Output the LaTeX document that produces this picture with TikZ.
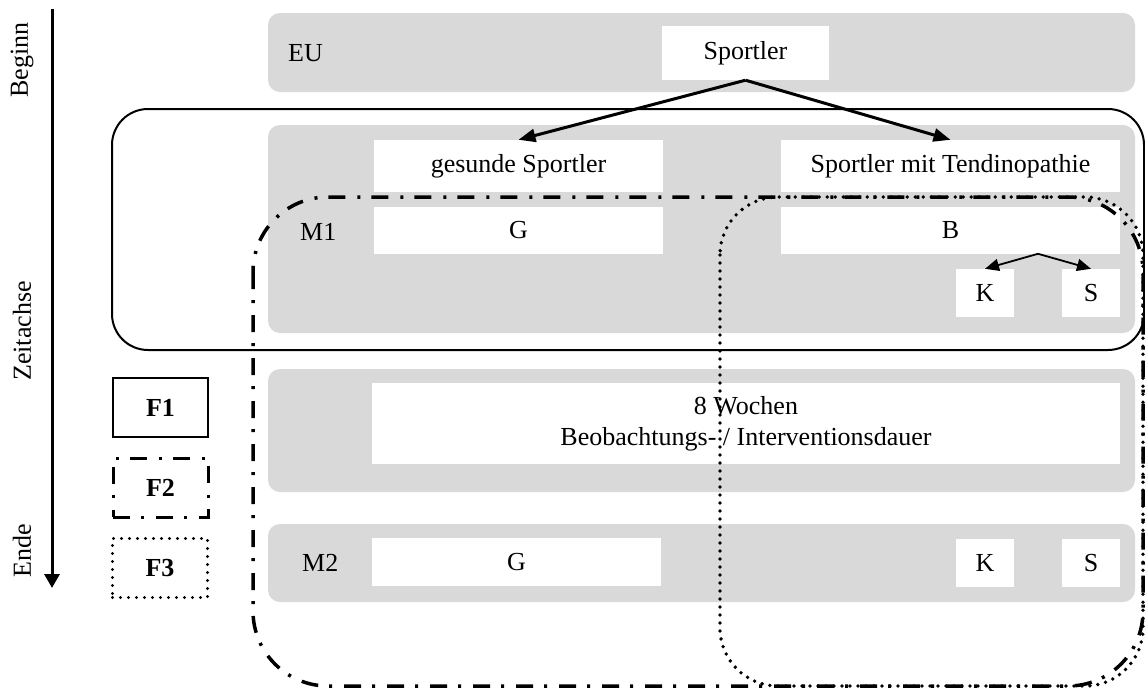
\documentclass[tikz,border=0pt]{standalone}
\usepackage{fontspec}
\setmainfont{Liberation Serif}
\usetikzlibrary{arrows.meta,calc}
\definecolor{bandgray}{HTML}{D9D9D9}

\begin{document}
\begin{tikzpicture}[x=1pt,y=-1pt,
  every node/.style={font=\fontsize{26}{31}\selectfont},
  band/.style={fill=bandgray, rounded corners=12pt, inner sep=0pt, minimum width=867pt},
  wbox/.style={fill=white, inner sep=0pt},
  lbl/.style={anchor=west, inner sep=0pt},
  axislbl/.style={rotate=90, inner sep=0pt},
  keybox/.style={inner sep=0pt, minimum width=95pt, minimum height=59pt, font=\fontsize{26}{31}\selectfont\bfseries},
  solidframe/.style={line width=2pt},
  dashdotframe/.style={line width=3.5pt, dash pattern=on 17pt off 11pt on 3pt off 12pt},
  dotframe/.style={line width=3.8pt, line cap=round, dash pattern=on 0pt off 8pt},
  bigarrow/.style={line width=3pt, -{Triangle[length=17pt,width=13pt]}},
  smallarrow/.style={line width=1.8pt, -{Triangle[length=14pt,width=12pt]}},
]
\useasboundingbox (0,0) rectangle (1145,688);

% time axis
\coordinate (axtop) at (52,9);
\coordinate (axend) at (52,588);
\draw[line width=3pt, -{Triangle[length=14pt,width=15pt]}] (axtop) -- (axend);
\node[axislbl] (beginn) at (22,60) {Beginn};
\node[axislbl] (zeit) at (22,331) {Zeitachse};
\node[axislbl] (ende) at (22,551) {Ende};

% gray phase bands
\node[band, minimum height=79pt]  (band1) at (701.5,52.5) {};
\node[band, minimum height=208pt] (band2) at (701.5,229) {};
\node[band, minimum height=123pt] (band3) at (701.5,430.5) {};
\node[band, minimum height=78pt]  (band4) at (701.5,563) {};

% row labels
\node[lbl] (eu) at (288,53) {EU};
\node[lbl] (m1) at (300,232) {M1};
\node[lbl] (m2) at (302,563) {M2};

% white boxes
\node[wbox, minimum width=167pt, minimum height=54pt] (sportler) at (745.5,53) {Sportler};
\node[wbox, minimum width=289pt, minimum height=52pt] (gesund) at (518.5,166) {gesunde Sportler};
\node[wbox, minimum width=339pt, minimum height=52pt] (tendino) at (950.5,166) {Sportler mit Tendinopathie};
\node[wbox, minimum width=289pt, minimum height=47pt] (g1) at (518.5,230.5) {G};
\node[wbox, minimum width=339pt, minimum height=47pt] (b1) at (950.5,230.5) {B};
\node[wbox, minimum width=58pt, minimum height=48pt] (k1) at (985,293) {K};
\node[wbox, minimum width=58pt, minimum height=48pt] (s1) at (1091,293) {S};
\node[wbox, minimum width=748pt, minimum height=81pt, align=center] (dauer) at (746,423.5)
  {8 Wochen\\Beobachtungs- / Interventionsdauer};
\node[wbox, minimum width=289pt, minimum height=48pt] (g2) at (516.5,562) {G};
\node[wbox, minimum width=58pt, minimum height=48pt] (k2) at (985,563) {K};
\node[wbox, minimum width=58pt, minimum height=48pt] (s2) at (1091,563) {S};

% connectors
\draw[bigarrow] (sportler.south) -- (gesund.north);
\draw[bigarrow] (sportler.south) -- (tendino.north);
\coordinate (fork) at ($(k1.north)!0.5!(s1.north) + (0,-15)$);
\draw[smallarrow] (fork) -- (k1.north);
\draw[smallarrow] (fork) -- (s1.north);

% legend
\node[keybox, draw, solidframe] (f1) at (160.5,407.5) {F1};
\node[keybox, draw, dashdotframe, line width=3pt] (f2) at (160.5,487.5) {F2};
\node[keybox, draw, dotframe, line width=3.4pt] (f3) at (160,568) {F3};

% frames
\draw[solidframe, rounded corners=36pt] (112,109) rectangle (1144,350);
\draw[dashdotframe, rounded corners=75pt] (253,197) rectangle (1143,686);
\draw[dotframe, rounded corners=58pt] (720,197) rectangle (1143,686);
\end{tikzpicture}
\end{document}
